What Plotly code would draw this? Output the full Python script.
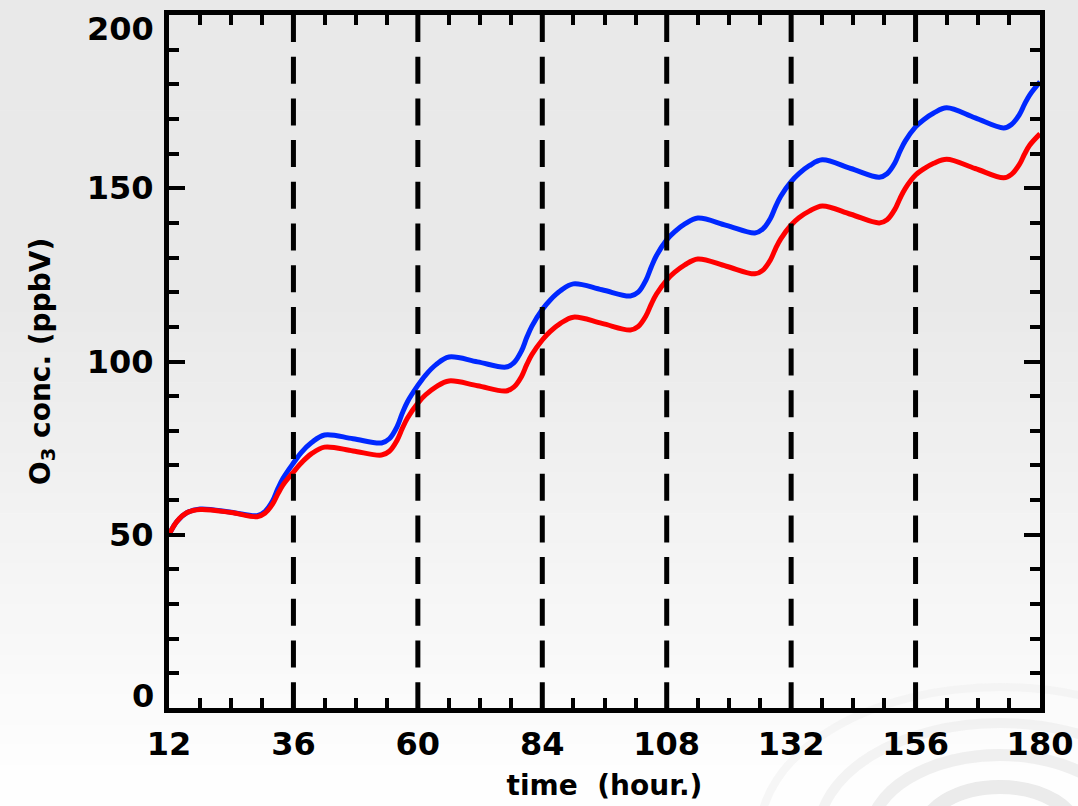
import plotly.graph_objects as go

# ---------------- data ----------------
hours = [12, 13.5, 15.5, 18, 24, 29,
         30.5, 32, 33, 34, 36, 37.5, 39.5, 42, 47.5, 53,
         54.5, 56, 57, 58, 60, 61.5, 63.5, 66, 71.5, 77,
         78.5, 80, 81, 82, 84, 85.5, 87.5, 90, 95.5, 101,
         102.5, 104, 105, 106, 108, 109.5, 111.5, 114, 119.5, 125,
         126.5, 128, 129, 130, 132, 133.5, 135.5, 138, 143.5, 149,
         150.5, 152, 153, 154, 156, 157.5, 159.5, 162, 167.5, 173,
         174.5, 176, 177, 178, 180]

o3_blue = [50, 53.8, 56.4, 57.4, 56.5, 55.5,
           56.7, 59.8, 63.3, 66.3, 70.7, 73.7, 76.6, 78.8, 77.7, 76.5,
           77.7, 81.2, 85.1, 88.4, 93.1, 96.1, 99.1, 101.3, 99.9, 98.4,
           99.6, 103.1, 106.9, 110.2, 115.0, 117.7, 120.4, 122.4, 120.7, 118.9,
           120.0, 123.5, 127.2, 130.5, 135.1, 137.4, 139.7, 141.4, 139.3, 137.1,
           138.2, 141.3, 144.7, 147.7, 151.9, 154.2, 156.5, 158.2, 155.7, 153.2,
           154.2, 157.3, 160.7, 163.6, 167.7, 169.7, 171.7, 173.2, 170.3, 167.4,
           168.4, 171.2, 174.2, 176.9, 180.7]

o3_red = [50, 53.8, 56.4, 57.3, 56.4, 55.2,
          56.2, 58.9, 61.8, 64.4, 68.1, 70.7, 73.4, 75.3, 74.2, 73.0,
          74.1, 77.3, 80.7, 83.7, 88.0, 90.4, 92.7, 94.4, 93.0, 91.5,
          92.6, 95.7, 99.1, 102.0, 106.2, 108.6, 111.0, 112.8, 111.0, 109.1,
          110.1, 113.2, 116.5, 119.4, 123.5, 125.7, 127.9, 129.6, 127.5, 125.3,
          126.3, 129.3, 132.6, 135.4, 139.4, 141.5, 143.4, 144.9, 142.5, 140.0,
          140.9, 143.9, 147.1, 149.9, 153.8, 155.5, 157.2, 158.4, 155.7, 153.0,
          154.0, 156.8, 159.8, 162.4, 165.7]

day_marks = [36, 60, 84, 108, 132, 156]
x_ticks = [12, 36, 60, 84, 108, 132, 156, 180]
y_ticks = [50, 100, 150]
y_edge_labels = [0, 200]   # drawn nudged inward, as in the original

# ---------------- layout geometry ----------------
W, H = 1078, 806
ML, MR, MT, MB = 169, 38, 15, 98
PW, PH = W - ML - MR, H - MT - MB

FONT = "DejaVu Sans"
TICK_SIZE = 32

fig = go.Figure()

fig.add_trace(go.Scatter(x=hours, y=o3_blue, mode="lines",
                         line=dict(color="#0028ff", width=5, shape="spline", smoothing=1.0),
                         showlegend=False))
fig.add_trace(go.Scatter(x=hours, y=o3_red, mode="lines",
                         line=dict(color="#ff0000", width=5, shape="spline", smoothing=1.0),
                         showlegend=False))

shapes = []
# background gradient (slide-like), stripes in paper coords
N = 80
for i in range(N):
    p0 = i * H / N
    p1 = (i + 1) * H / N
    mid = (p0 + p1) / 2
    if mid < 300:
        c = 233
    else:
        c = 233 + (254 - 233) * min(1.0, (mid - 300) / 480)
    c = int(round(c))
    shapes.append(dict(type="rect", xref="paper", yref="paper",
                       x0=-ML / PW - 0.01, x1=1 + MR / PW + 0.01,
                       y0=(H - MB - p1) / PH, y1=(H - MB - p0) / PH + 0.001,
                       line=dict(width=0), fillcolor=f"rgb({c},{c},{c})",
                       layer="below"))

# faint decorative arcs bottom right
for r, col, w in [(60, "rgba(215,215,215,0.5)", 14), (100, "rgba(222,222,222,0.45)", 12),
                  (140, "rgba(228,228,228,0.4)", 10), (185, "rgba(235,235,235,0.4)", 8)]:
    cx, cy = 1000, 835
    shapes.append(dict(type="circle", xref="paper", yref="paper",
                       x0=(cx - r * 1.3 - ML) / PW, x1=(cx + r * 1.3 - ML) / PW,
                       y0=(H - MB - (cy + r * 0.8)) / PH, y1=(H - MB - (cy - r * 0.8)) / PH,
                       line=dict(width=w, color=col), layer="below"))

for d in day_marks:
    shapes.append(dict(type="line", xref="x", yref="y", x0=d, x1=d, y0=200, y1=0,
                       line=dict(color="black", width=5, dash="27px,14.7px"),
                       layer="above"))

annotations = []
for v in y_edge_labels:
    annotations.append(dict(xref="paper", yref="y", x=0, y=v, text=str(v),
                            showarrow=False, xanchor="right", yanchor="middle",
                            xshift=-13, yshift=(12 if v == 0 else -14),
                            font=dict(family=FONT, size=TICK_SIZE, weight="bold", color="black")))

fig.update_layout(
    width=W, height=H,
    margin=dict(l=ML, r=MR, t=MT, b=MB, autoexpand=False),
    paper_bgcolor="white",
    plot_bgcolor="rgba(0,0,0,0)",
    shapes=shapes,
    annotations=annotations,
    font=dict(family=FONT, color="black"),
)

fig.update_xaxes(
    range=[12, 180], tickmode="array", tickvals=x_ticks,
    ticktext=[str(v) for v in x_ticks],
    ticks="inside", ticklen=16, tickwidth=4, tickcolor="black",
    minor=dict(ticks="inside", ticklen=10, tickwidth=4, tickcolor="black", dtick=6, tick0=12),
    showline=True, linewidth=5, linecolor="black", mirror="allticks",
    showgrid=False, zeroline=False,
    tickfont=dict(family=FONT, size=TICK_SIZE, weight="bold", color="black"),
    ticklabelstandoff=4, ticklabeloverflow="allow",
    title=dict(text="time  (hour.)", font=dict(family=FONT, size=28, weight="bold", color="black"),
               standoff=14),
    automargin=False,
)
fig.update_yaxes(
    range=[0, 200], tickmode="array", tickvals=y_ticks,
    ticktext=[str(v) for v in y_ticks],
    ticks="inside", ticklen=16, tickwidth=4, tickcolor="black",
    minor=dict(ticks="inside", ticklen=10, tickwidth=4, tickcolor="black", dtick=10, tick0=0),
    showline=True, linewidth=5, linecolor="black", mirror="allticks",
    showgrid=False, zeroline=False,
    tickfont=dict(family=FONT, size=TICK_SIZE, weight="bold", color="black"),
    ticklabelstandoff=4, ticklabeloverflow="allow",
    title=dict(text="O<sub>3</sub> conc. (ppbV)",
               font=dict(family=FONT, size=28, weight="bold", color="black"),
               standoff=30),
    automargin=False,
)

fig.write_html("out.html")
